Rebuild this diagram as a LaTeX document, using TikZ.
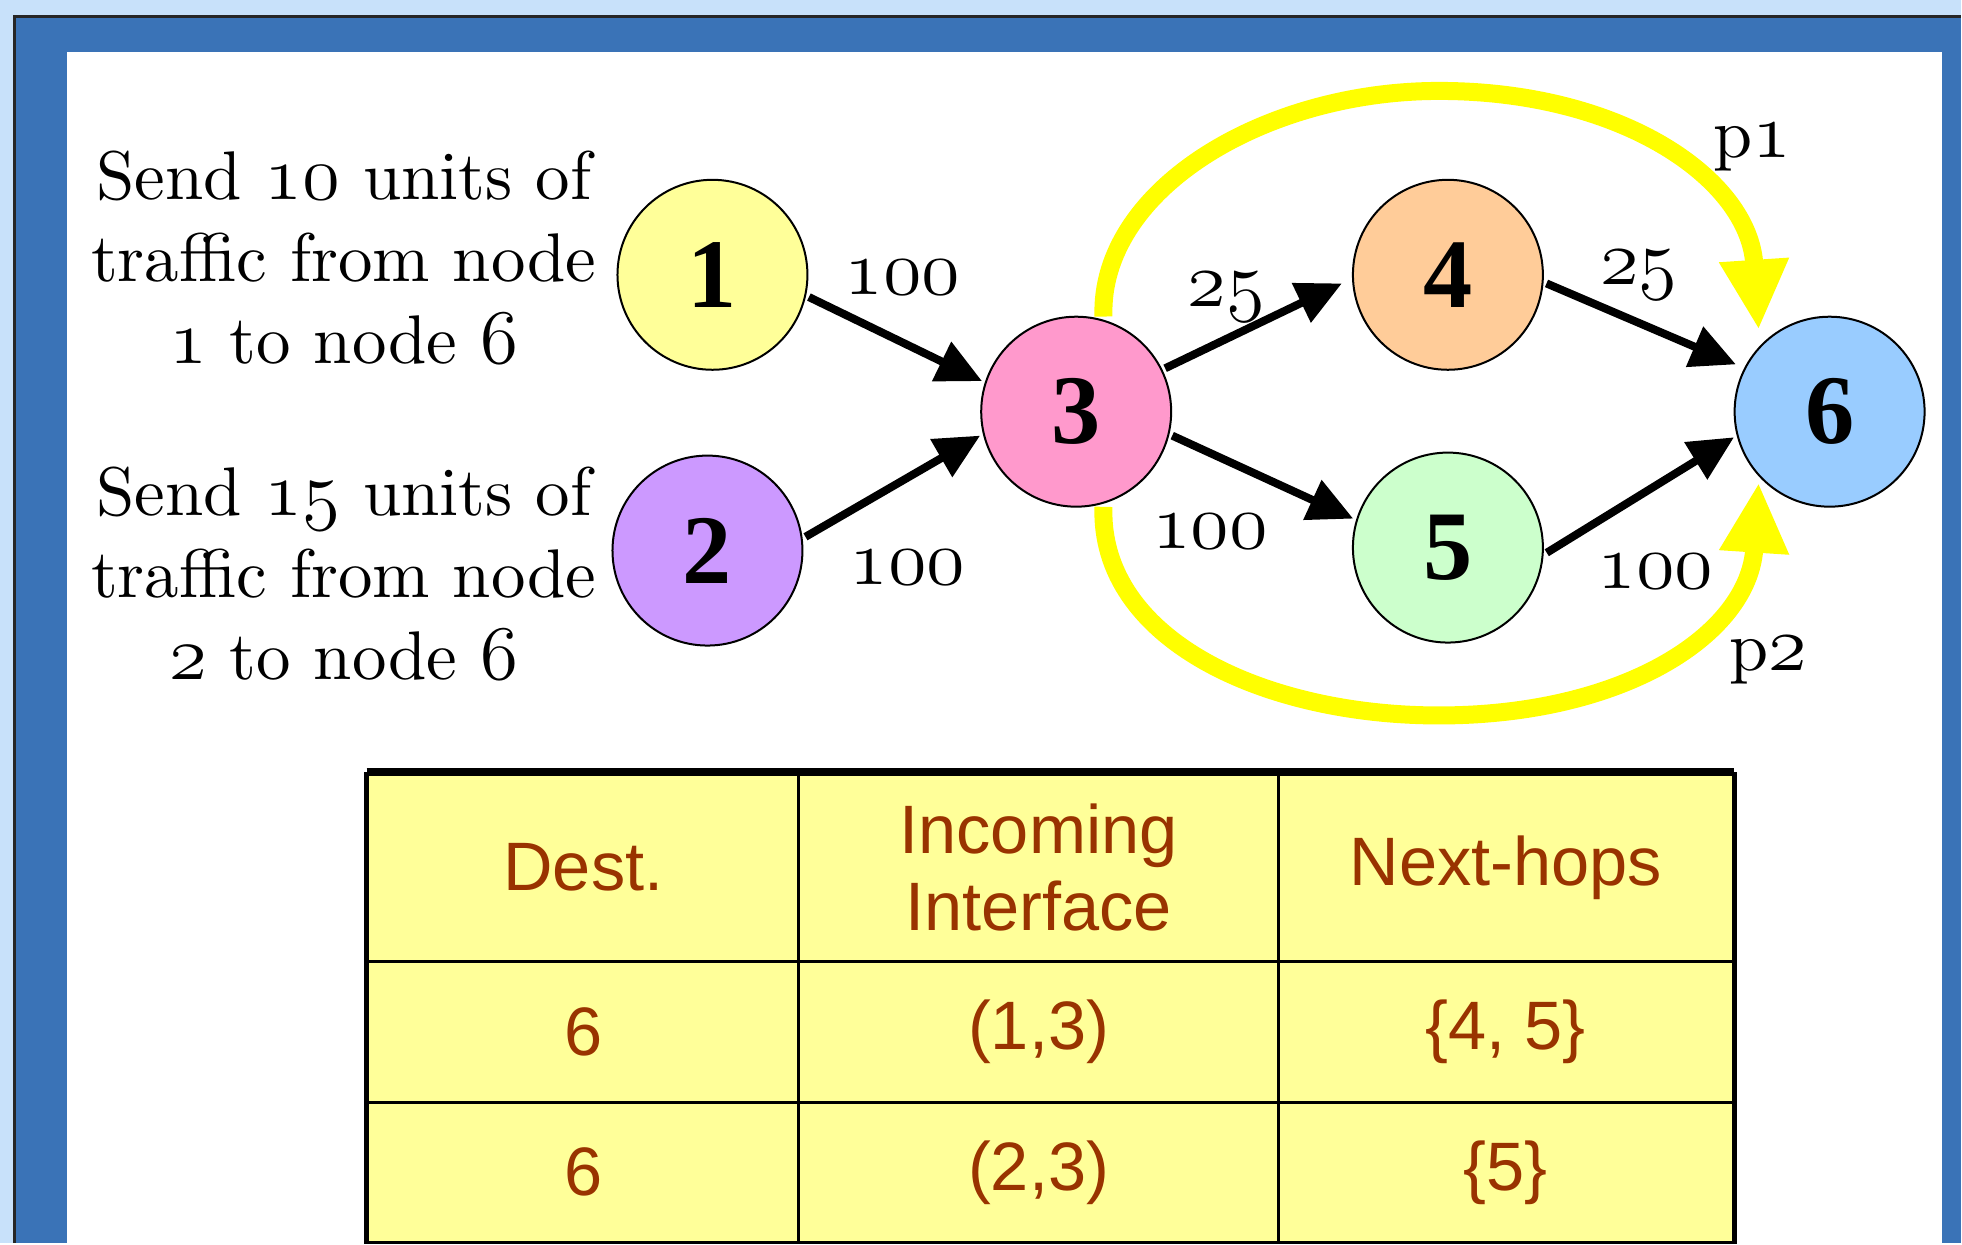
\RequirePackage{fix-cm}
\documentclass[tikz,border=0pt]{standalone}
\usepackage{fontspec}
\newfontfamily\tabfont{Liberation Sans}
\newfontfamily\numfont{Liberation Serif}
\newfontfamily\lmtext{lmroman10-regular}[Extension=.otf]
\makeatletter
\newcommand\osd[1]{{\fontencoding{OML}\fontfamily{cmm}\fontseries{m}\fontshape{it}%
  \fontsize{\strip@pt\dimexpr1.12\dimexpr\f@size pt\relax\relax}{\f@baselineskip}\selectfont #1}}
\makeatother
\usetikzlibrary{arrows.meta}
\pgfdeclarelayer{bg}
\pgfsetlayers{bg,main}
\definecolor{bgblue}{HTML}{C8E1FA}
\definecolor{frameblue}{HTML}{3A73B7}
\definecolor{cone}{HTML}{FFFF99}
\definecolor{ctwo}{HTML}{CC99FF}
\definecolor{cthree}{HTML}{FF99CC}
\definecolor{cfour}{HTML}{FFCC99}
\definecolor{cfive}{HTML}{CCFFCC}
\definecolor{csix}{HTML}{99CCFF}
\definecolor{pathyellow}{HTML}{FFFF00}
\definecolor{tabyellow}{HTML}{FFFF99}
\definecolor{tabtext}{HTML}{993300}
\begin{document}
\begin{tikzpicture}[x=0.01cm,y=-0.01cm,
  vertex/.style={circle,draw=black,line width=0.02cm,minimum size=1.9cm,inner sep=0pt,outer sep=0.04cm,
    font=\numfont\fontsize{28}{30}\selectfont\bfseries},
  flow/.style={line width=0.08cm,-{Triangle[length=0.45cm,width=0.42cm]}},
  yellowpath/.style={draw=pathyellow,line width=0.18cm,-{Triangle[length=0.7cm,width=0.65cm]}},
  elabel/.style={font=\lmtext\fontsize{20}{24}\selectfont,anchor=base,inner sep=0pt},
  sendtext/.style={font=\lmtext\fontsize{19.6}{23.4}\selectfont,align=center,inner sep=0pt},
  cell/.style={draw=black,line width=0.025cm,fill=tabyellow,anchor=north west,align=center,inner sep=0pt,
    font=\tabfont\fontsize{19.5}{22}\selectfont\color{tabtext}}
]
% background and frame
\begin{pgfonlayer}{bg}
\fill[bgblue] (0,0) rectangle (1962,1244);
\fill[frameblue] (15,17) rectangle (1962,1244);
\draw[line width=0.03cm,black!85] (15,1244) -- (15,17) -- (1962,17);
\fill[white] (67,52) rectangle (1943,1244);
\end{pgfonlayer}
\useasboundingbox (0,0) rectangle (1962,1244);

% nodes
\node[vertex,fill=cone]   (n1) at (713,275) {1};
\node[vertex,fill=ctwo]   (n2) at (708,551) {2};
\node[vertex,fill=cthree] (n3) at (1077,412) {3};
\node[vertex,fill=cfour]  (n4) at (1449,275) {4};
\node[vertex,fill=cfive]  (n5) at (1449,548) {5};
\node[vertex,fill=csix]   (n6) at (1831,412) {6};

% yellow paths p1, p2 (behind the nodes)
\coordinate (p1tip) at (1760,330);
\coordinate (p2tip) at (1760,483);
\begin{pgfonlayer}{bg}
\draw[yellowpath] (n3.74) .. controls (1100,190) and (1265,91) .. (1440,91)
  .. controls (1625,91) and (1750,180) .. (p1tip);
\draw[yellowpath] (n3.-74) .. controls (1100,640) and (1265,716) .. (1440,716)
  .. controls (1625,716) and (1750,635) .. (p2tip);
\end{pgfonlayer}

% flow arrows
\draw[flow] (n1.-13) -- (n3.162);
\draw[flow] (n2.8) -- (n3.-166);
\draw[flow,shorten >=0.08cm] (n3.26) -- (n4.183);
\draw[flow] (n3.-14) -- (n5.163);
\draw[flow,shorten >=0.06cm] (n4.-5) -- (n6.153);
\draw[flow] (n5.-3) -- (n6.195);

% edge labels
\node[elabel] (l13) at (903,295) {\osd{100}};
\node[elabel] (l23) at (908,585) {\osd{100}};
\node[elabel] (l34) at (1227,307) {\osd{25}};
\node[elabel] (l46) at (1640,285) {\osd{25}};
\node[elabel] (l35) at (1211,549) {\osd{100}};
\node[elabel] (l56) at (1657,589) {\osd{100}};
\node[elabel] (lp1) at (1754,158) {p\osd{1}};
\node[elabel] (lp2) at (1770,671) {p\osd{2}};

% demand texts
\node[sendtext] (t1) at (344,258) {Send \osd{10} units of\\traffic from node\\\osd{1} to node \osd{6}};
\node[sendtext] (t2) at (344,574) {Send \osd{15} units of\\traffic from node\\\osd{2} to node \osd{6}};

% table
\node[cell,minimum width=4.31cm,minimum height=1.88cm] (h1) at (367,773) {Dest.};
\node[cell,minimum width=4.80cm,minimum height=1.88cm] (h2) at (798,773) {Incoming\\Interface};
\node[cell,minimum width=4.55cm,minimum height=1.88cm] (h3) at (1278,773) {Next-hops};
\node[cell,minimum width=4.31cm,minimum height=1.41cm] (a1) at (367,961) {6};
\node[cell,minimum width=4.80cm,minimum height=1.41cm] (a2) at (798,961) {(1,3)};
\node[cell,minimum width=4.55cm,minimum height=1.41cm] (a3) at (1278,961) {\{4, 5\}};
\node[cell,minimum width=4.31cm,minimum height=1.40cm] (b1) at (367,1102) {6};
\node[cell,minimum width=4.80cm,minimum height=1.40cm] (b2) at (798,1102) {(2,3)};
\node[cell,minimum width=4.55cm,minimum height=1.40cm] (b3) at (1278,1102) {\{5\}};
\draw[line width=0.08cm] (h1.north west) -- (h3.north east);
\draw[line width=0.045cm] (h1.north west) -- (b1.south west);
\draw[line width=0.045cm] (h3.north east) -- (b3.south east);
\end{tikzpicture}
\end{document}
